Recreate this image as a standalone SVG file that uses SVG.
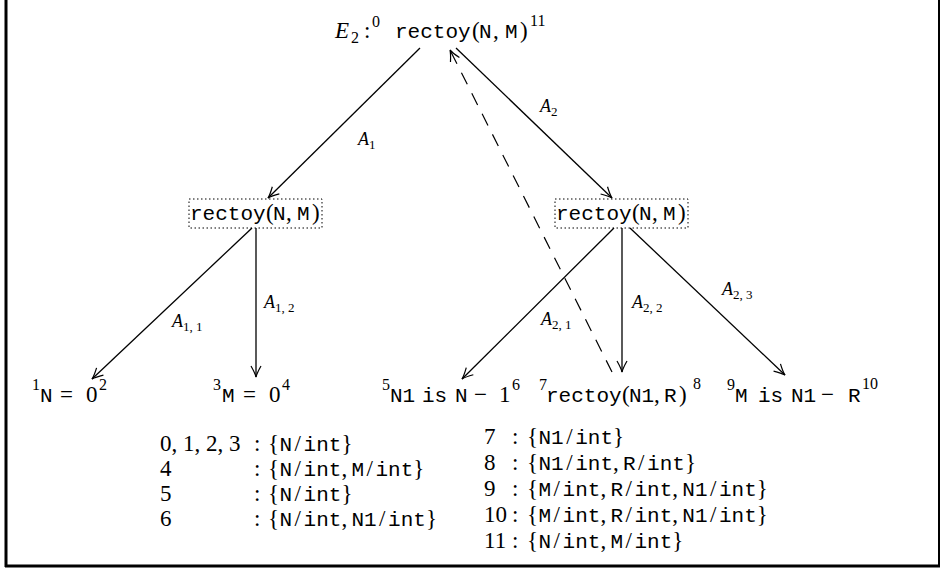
<svg xmlns="http://www.w3.org/2000/svg" width="945" height="577" viewBox="0 0 945 577">
<style>
.rm{font-family:"Liberation Serif","DejaVu Serif",serif;font-size:23px;fill:#000}
.it{font-family:"Liberation Serif","DejaVu Serif",serif;font-style:italic;fill:#000}
.tt{font-family:"Liberation Mono","DejaVu Sans Mono",monospace;font-size:21px}
.sup{font-size:16px}
.lbl{font-size:18px}
.sub{font-size:13px;font-style:normal}
.edge{stroke:#000;stroke-width:1.3;fill:none;marker-end:url(#arr)}
.dash{stroke:#000;stroke-width:1.2;fill:none;stroke-dasharray:13 10;marker-end:url(#arr)}
.box{fill:none;stroke:#000;stroke-width:1;stroke-dasharray:1.5 2.5}
</style>
<defs>
<marker id="arr" viewBox="-12 -6 14 12" refX="0" refY="0" markerWidth="14" markerHeight="12" markerUnits="userSpaceOnUse" orient="auto">
<path d="M -11 -5 Q -4 -1 0 0 Q -4 1 -11 5" fill="none" stroke="#000" stroke-width="1.2"/>
</marker>
</defs>
<rect width="945" height="577" fill="#fff"/>
<g id="frame" stroke="#000" fill="none">
<line x1="6" y1="0" x2="6" y2="567" stroke-width="3"/>
<line x1="5" y1="566" x2="940" y2="566" stroke-width="3"/>
<line x1="939" y1="0" x2="939" y2="567" stroke-width="2"/>
</g>
<g id="connectors">
<line class="edge" x1="420" y1="48" x2="268" y2="198"/>
<line class="edge" x1="456" y1="48" x2="612" y2="198" stroke-width="1"/>
<line class="edge" x1="252" y1="228" x2="92" y2="379"/>
<line class="edge" x1="256" y1="228" x2="256" y2="377" stroke-width="2"/>
<line class="edge" x1="614" y1="228" x2="462" y2="379"/>
<line class="edge" x1="622" y1="228" x2="622" y2="372" stroke-width="2"/>
<line class="edge" x1="630" y1="228" x2="785" y2="375" stroke-width="1"/>
<line class="dash" x1="612" y1="372" x2="450" y2="50"/>
<text class="it lbl" x="358" y="145">A<tspan class="sub" dy="4">1</tspan></text>
<text class="it lbl" x="540" y="112">A<tspan class="sub" dy="4">2</tspan></text>
<text class="it lbl" x="172" y="327">A<tspan class="sub" dy="4">1, 1</tspan></text>
<text class="it lbl" x="264" y="308">A<tspan class="sub" dy="4">1, 2</tspan></text>
<text class="it lbl" x="541" y="325">A<tspan class="sub" dy="4">2, 1</tspan></text>
<text class="it lbl" x="632" y="308">A<tspan class="sub" dy="4">2, 2</tspan></text>
<text class="it lbl" x="722" y="295">A<tspan class="sub" dy="4">2, 3</tspan></text>
</g>
<g id="root">
<text class="rm" y="38"><tspan class="it" x="335">E</tspan><tspan class="sup" x="351" y="43">2</tspan><tspan x="364" y="38">:</tspan><tspan class="sup" x="372" y="27">0</tspan><tspan class="tt" x="395" y="38">rectoy</tspan><tspan x="472">(</tspan><tspan class="tt" x="479">N</tspan><tspan x="493">,</tspan><tspan class="tt" x="505">M</tspan><tspan x="520">)</tspan><tspan class="sup" x="530" y="26">11</tspan></text>
</g>
<g id="n1">
<rect class="box" x="189" y="199" width="133" height="29"/>
<text class="rm" y="220"><tspan class="tt" x="190">rectoy</tspan><tspan x="266">(</tspan><tspan class="tt" x="273">N</tspan><tspan x="286">,</tspan><tspan class="tt" x="297">M</tspan><tspan x="312">)</tspan></text>
</g>
<g id="n2">
<rect class="box" x="555" y="199" width="133" height="29"/>
<text class="rm" y="220"><tspan class="tt" x="556">rectoy</tspan><tspan x="632">(</tspan><tspan class="tt" x="639">N</tspan><tspan x="652">,</tspan><tspan class="tt" x="663">M</tspan><tspan x="678">)</tspan></text>
</g>
<g id="leaf1">
<text class="rm" y="402"><tspan class="sup" x="32" y="390">1</tspan><tspan class="tt" x="40" y="402">N</tspan><tspan x="60">=</tspan><tspan x="86">0</tspan><tspan class="sup" x="99" y="390">2</tspan></text>
</g>
<g id="leaf2">
<text class="rm" y="402"><tspan class="sup" x="213" y="390">3</tspan><tspan class="tt" x="222" y="402">M</tspan><tspan x="243">=</tspan><tspan x="269">0</tspan><tspan class="sup" x="282" y="390">4</tspan></text>
</g>
<g id="leaf3">
<text class="rm" y="402"><tspan class="sup" x="382" y="390">5</tspan><tspan class="tt" x="390" y="402">N1</tspan><tspan class="tt" x="422">is</tspan><tspan class="tt" x="455">N</tspan><tspan x="474">−</tspan><tspan x="499">1</tspan><tspan class="sup" x="512" y="390">6</tspan></text>
</g>
<g id="leaf4">
<text class="rm" y="402"><tspan class="sup" x="539" y="390">7</tspan><tspan class="tt" x="546" y="402">rectoy</tspan><tspan x="622">(</tspan><tspan class="tt" x="629">N1</tspan><tspan x="654">,</tspan><tspan class="tt" x="664">R</tspan><tspan x="679">)</tspan><tspan class="sup" x="693" y="389">8</tspan></text>
</g>
<g id="leaf5">
<text class="rm" y="402"><tspan class="sup" x="727" y="390">9</tspan><tspan class="tt" x="735" y="402">M</tspan><tspan class="tt" x="758">is</tspan><tspan class="tt" x="791">N1</tspan><tspan x="821">−</tspan><tspan class="tt" x="848">R</tspan><tspan class="sup" x="862" y="389">10</tspan></text>
</g>
<g id="table-left" class="rm">
<text x="160" y="451">0, 1, 2, 3</text>
<text x="254" y="451">:</text>
<text y="451"><tspan x="268">{</tspan><tspan class="tt" x="279.5">N</tspan><tspan x="294.6">/</tspan><tspan class="tt" x="303.6">int</tspan><tspan x="341.4">}</tspan></text>
<text x="160" y="476">4</text>
<text x="254" y="476">:</text>
<text y="476"><tspan x="268">{</tspan><tspan class="tt" x="279.5">N</tspan><tspan x="294.6">/</tspan><tspan class="tt" x="303.6">int</tspan><tspan x="341.4">,</tspan><tspan class="tt" x="351.4">M</tspan><tspan x="366.5">/</tspan><tspan class="tt" x="375.5">int</tspan><tspan x="413.3">}</tspan></text>
<text x="160" y="501">5</text>
<text x="254" y="501">:</text>
<text y="501"><tspan x="268">{</tspan><tspan class="tt" x="279.5">N</tspan><tspan x="294.6">/</tspan><tspan class="tt" x="303.6">int</tspan><tspan x="341.4">}</tspan></text>
<text x="160" y="526">6</text>
<text x="254" y="526">:</text>
<text y="526"><tspan x="268">{</tspan><tspan class="tt" x="279.5">N</tspan><tspan x="294.6">/</tspan><tspan class="tt" x="303.6">int</tspan><tspan x="341.4">,</tspan><tspan class="tt" x="351.4">N1</tspan><tspan x="379.1">/</tspan><tspan class="tt" x="388.1">int</tspan><tspan x="425.9">}</tspan></text>
</g>
<g id="table-right" class="rm">
<text x="484" y="444">7</text>
<text x="512" y="444">:</text>
<text y="444"><tspan x="527">{</tspan><tspan class="tt" x="538.5">N1</tspan><tspan x="566.2">/</tspan><tspan class="tt" x="575.2">int</tspan><tspan x="613">}</tspan></text>
<text x="484" y="470">8</text>
<text x="512" y="470">:</text>
<text y="470"><tspan x="527">{</tspan><tspan class="tt" x="538.5">N1</tspan><tspan x="566.2">/</tspan><tspan class="tt" x="575.2">int</tspan><tspan x="613">,</tspan><tspan class="tt" x="623">R</tspan><tspan x="638.1">/</tspan><tspan class="tt" x="647.1">int</tspan><tspan x="684.9">}</tspan></text>
<text x="484" y="496">9</text>
<text x="512" y="496">:</text>
<text y="496"><tspan x="527">{</tspan><tspan class="tt" x="538.5">M</tspan><tspan x="553.6">/</tspan><tspan class="tt" x="562.6">int</tspan><tspan x="600.4">,</tspan><tspan class="tt" x="610.4">R</tspan><tspan x="625.5">/</tspan><tspan class="tt" x="634.5">int</tspan><tspan x="672.3">,</tspan><tspan class="tt" x="682.3">N1</tspan><tspan x="710">/</tspan><tspan class="tt" x="719">int</tspan><tspan x="756.8">}</tspan></text>
<text x="484" y="522">10</text>
<text x="512" y="522">:</text>
<text y="522"><tspan x="527">{</tspan><tspan class="tt" x="538.5">M</tspan><tspan x="553.6">/</tspan><tspan class="tt" x="562.6">int</tspan><tspan x="600.4">,</tspan><tspan class="tt" x="610.4">R</tspan><tspan x="625.5">/</tspan><tspan class="tt" x="634.5">int</tspan><tspan x="672.3">,</tspan><tspan class="tt" x="682.3">N1</tspan><tspan x="710">/</tspan><tspan class="tt" x="719">int</tspan><tspan x="756.8">}</tspan></text>
<text x="484" y="548">11</text>
<text x="512" y="548">:</text>
<text y="548"><tspan x="527">{</tspan><tspan class="tt" x="538.5">N</tspan><tspan x="553.6">/</tspan><tspan class="tt" x="562.6">int</tspan><tspan x="600.4">,</tspan><tspan class="tt" x="610.4">M</tspan><tspan x="625.5">/</tspan><tspan class="tt" x="634.5">int</tspan><tspan x="672.3">}</tspan></text>
</g>
</svg>
